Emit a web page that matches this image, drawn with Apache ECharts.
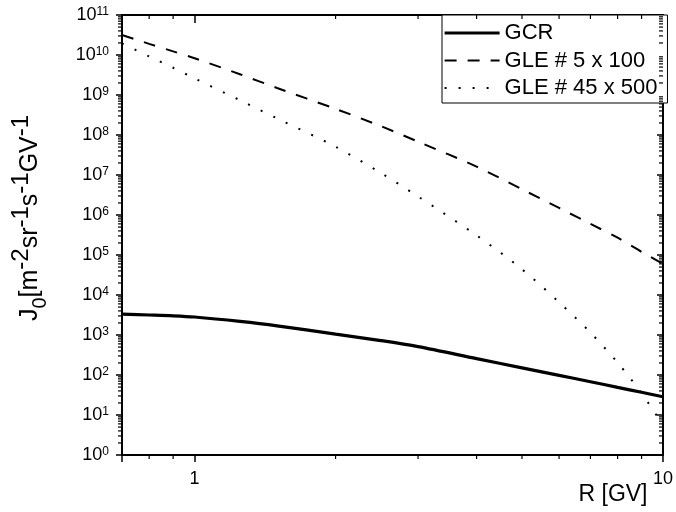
<!DOCTYPE html>
<html>
<head>
    <meta charset="utf-8">
    <title>J0 spectra</title>
    <script src="https://cdn.jsdelivr.net/npm/echarts@6.0.0/dist/echarts.min.js"></script>
</head>
<body style="margin:0;background:#fff">
<div id="main" style="width:676px;height:512px;"></div>
<script type="text/javascript">
    // rigidity R [GV]
    var rigidity = [0.7, 0.8, 0.9, 1.0, 1.25, 1.5, 2, 2.5, 3, 4, 5, 6, 7, 8, 9, 10];
    // J0 values
    var gcr = [3311, 3162, 3020, 2818, 2188, 1698, 1047, 724, 513, 257, 151, 98, 68, 49, 37, 28.5];
    var gle5 = [3.16e10, 1.9e10, 1.23e10, 8.3e9, 3.3e9, 1.5e9, 4.5e8, 1.66e8, 6.8e7, 1.62e7, 4.4e6, 1.5e6, 6.0e5, 2.7e5, 1.2e5, 6.0e4];
    var gle45 = [1.95e10, 9.2e9, 4.8e9, 2.6e9, 7.4e8, 2.6e8, 5.1e7, 1.12e7, 2.9e6, 3.1e5, 4.4e4, 6.6e3, 1150, 204, 35, 5.6];
    var seriesNames = ['GCR', 'GLE # 5 x 100', 'GLE # 45 x 500'];
    var xLabels = [1, 10];
    var minorSteps = [2, 3, 4, 5, 6, 7, 8, 9];
    var xMinor = [0.8, 0.9, 2, 3, 4, 5, 6, 7, 8, 9];
    var yDecades = [0, 1, 2, 3, 4, 5, 6, 7, 8, 9, 10];

    var font = 'Liberation Sans, Arial, sans-serif';

    function pairs(ys) {
        return rigidity.map(function (r, i) { return [r, ys[i]]; });
    }

    // minor tick marks: [x, y, side]
    var minorTicks = [];
    yDecades.forEach(function (d) {
        minorSteps.forEach(function (m) {
            var v = m * Math.pow(10, d);
            minorTicks.push([0.7, v, 0]);
            minorTicks.push([10, v, 1]);
        });
    });
    xMinor.forEach(function (v) {
        minorTicks.push([v, 1, 2]);
        minorTicks.push([v, 1e11, 3]);
    });

    var lineStyles = [
        { color: '#000', width: 3.2 },
        { color: '#000', width: 2, type: [12, 11] },
        { color: '#000', width: 2, type: [2, 12] }
    ];

    var myChart = echarts.init(document.getElementById('main'));

    var option = {
        animation: false,
        backgroundColor: '#fff',
        grid: { left: 122, right: 9, top: 15, bottom: 57 },
        legend: {
            data: seriesNames.map(function (n, i) {
                return { name: n, lineStyle: lineStyles[i] };
            }),
            orient: 'vertical',
            left: 442,
            top: 15,
            padding: [7, 10, 4, 1],
            itemWidth: 55,
            itemHeight: 14,
            itemGap: 5.5,
            borderColor: '#000',
            borderWidth: 1,
            backgroundColor: '#fff',
            itemStyle: { opacity: 0 },
            textStyle: { fontSize: 22, color: '#000', fontFamily: font }
        },
        xAxis: [{
            type: 'log',
            min: 0.7,
            max: 10,
            axisLine: { lineStyle: { color: '#000', width: 2 } },
            axisTick: { inside: false, length: 7, lineStyle: { color: '#000', width: 1.5 } },
            splitLine: { show: false },
            axisLabel: {
                margin: 15,
                color: '#000',
                fontSize: 18,
                fontFamily: font,
                formatter: function (v) {
                    return xLabels.indexOf(Math.round(v * 1000) / 1000) >= 0 ? String(Math.round(v)) : '';
                }
            }
        }, {
            type: 'log',
            position: 'top',
            min: 0.7,
            max: 10,
            axisLine: { onZero: false, lineStyle: { color: '#000', width: 2 } },
            axisTick: { inside: true, length: 8, lineStyle: { color: '#000', width: 1.5 } },
            axisLabel: { show: false },
            splitLine: { show: false }
        }],
        yAxis: [{
            type: 'log',
            min: 1,
            max: 1e11,
            interval: 1,
            axisLine: { lineStyle: { color: '#000', width: 2 } },
            axisTick: { inside: false, length: 6, lineStyle: { color: '#000', width: 1.5 } },
            splitLine: { show: false },
            axisLabel: {
                margin: 13,
                color: '#000',
                fontFamily: font,
                formatter: function (v) {
                    return '{b|10}{s|' + Math.round(Math.log10(v)) + '}';
                },
                rich: {
                    b: { fontSize: 18, fontFamily: font, color: '#000', verticalAlign: 'bottom' },
                    s: { fontSize: 12, fontFamily: font, color: '#000', verticalAlign: 'bottom', padding: [0, 0, 7, 0] }
                }
            }
        }, {
            type: 'log',
            position: 'right',
            min: 1,
            max: 1e11,
            interval: 1,
            axisLine: { show: true, onZero: false, lineStyle: { color: '#000', width: 2 } },
            axisTick: { show: true, inside: true, length: 6, lineStyle: { color: '#000', width: 1.5 } },
            axisLabel: { show: false },
            splitLine: { show: false }
        }],
        graphic: [{
            type: 'text',
            x: 613,
            y: 495,
            style: {
                text: 'R [GV]',
                font: '23px ' + font,
                fill: '#000',
                align: 'center',
                verticalAlign: 'middle'
            }
        }, {
            type: 'text',
            x: 30,
            y: 218,
            rotation: Math.PI / 2,
            style: {
                text: '{b|J}{d|0}{b|[m}{u|-2}{b|sr}{u|-1}{b|s}{u|-1}{b|GV}{u|-1}',
                align: 'center',
                verticalAlign: 'middle',
                fill: '#000',
                rich: {
                    b: { fontSize: 25, fontFamily: font, fill: '#000', verticalAlign: 'bottom', padding: [0, 0, 8, 0] },
                    u: { fontSize: 24, fontFamily: font, fill: '#000', verticalAlign: 'bottom', padding: [0, 0, 17, 0] },
                    d: { fontSize: 20, fontFamily: font, fill: '#000', verticalAlign: 'bottom', padding: [0, 0, 0, 0] }
                }
            }
        }],
        series: [{
            name: seriesNames[0],
            type: 'line',
            data: pairs(gcr),
            smooth: 0.3,
            symbol: 'none',
            lineStyle: lineStyles[0],
            itemStyle: { color: '#000' },
            z: 3
        }, {
            name: seriesNames[1],
            type: 'line',
            data: pairs(gle5),
            smooth: 0.3,
            symbol: 'none',
            lineStyle: lineStyles[1],
            itemStyle: { color: '#000' },
            z: 2
        }, {
            name: seriesNames[2],
            type: 'line',
            data: pairs(gle45),
            smooth: 0.3,
            symbol: 'none',
            lineStyle: lineStyles[2],
            itemStyle: { color: '#000' },
            z: 2
        }, {
            type: 'custom',
            silent: true,
            clip: false,
            data: minorTicks,
            z: 4,
            renderItem: function (params, api) {
                var side = api.value(2);
                var p = api.coord([api.value(0), api.value(1)]);
                var x1 = p[0], y1 = p[1], x2 = p[0], y2 = p[1];
                if (side === 0 || side === 1) { x1 = p[0] - 4; }
                else { y2 = p[1] + 4; }
                return {
                    type: 'line',
                    shape: { x1: x1, y1: y1, x2: x2, y2: y2 },
                    style: { stroke: '#000', lineWidth: 1.2 }
                };
            }
        }]
    };

    myChart.setOption(option);
</script>
</body>
</html>
